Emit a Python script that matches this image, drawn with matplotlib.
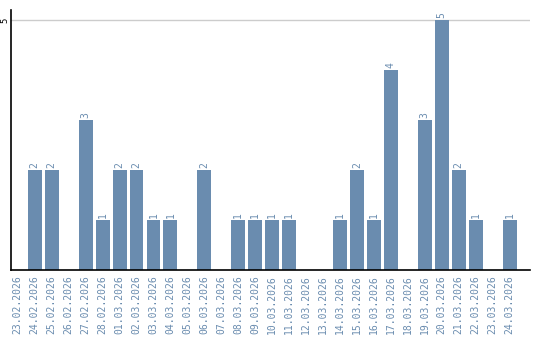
import matplotlib.pyplot as plt
import numpy as np

# daty i wartosci
dates = ['23.02.2026', '24.02.2026', '25.02.2026', '26.02.2026', '27.02.2026',
         '28.02.2026', '01.03.2026', '02.03.2026', '03.03.2026', '04.03.2026',
         '05.03.2026', '06.03.2026', '07.03.2026', '08.03.2026', '09.03.2026',
         '10.03.2026', '11.03.2026', '12.03.2026', '13.03.2026', '14.03.2026',
         '15.03.2026', '16.03.2026', '17.03.2026', '18.03.2026', '19.03.2026',
         '20.03.2026', '21.03.2026', '22.03.2026', '23.03.2026', '24.03.2026']
counts = [0, 2, 2, 0, 3, 1, 2, 2, 1, 1, 0, 2, 0, 1, 1, 1, 1, 0, 0, 1,
          2, 1, 4, 0, 3, 5, 2, 1, 0, 1]

kolor = '#6a8caf'

fig = plt.figure(figsize=(5.4, 3.4), dpi=100)
ax = fig.add_axes([11/540, 70/340, 519/540, 260/340])

x = np.arange(len(dates))
ax.bar(x, counts, width=0.82, color=kolor, zorder=2)

for i in range(len(counts)):
    if counts[i] > 0:
        ax.text(x[i], counts[i] + 0.04, str(counts[i]), rotation=90,
                ha='center', va='bottom', fontsize=7, color=kolor,
                family='DejaVu Sans Mono')

ax.set_xlim(-0.4, 30.2)
ax.set_ylim(0, 5.2)
ax.axhline(5, color='#cccccc', lw=1, zorder=1)

ax.set_yticks([5])
ax.set_yticklabels(['5'], rotation=90, fontsize=6.5, family='DejaVu Sans Mono', va='center')
ax.tick_params(axis='y', length=0, pad=1)

ax.set_xticks(x)
ax.set_xticklabels(dates, rotation=90, fontsize=7, color=kolor,
                   family='DejaVu Sans Mono')
ax.tick_params(axis='x', length=0, pad=4)

ax.spines['top'].set_visible(False)
ax.spines['right'].set_visible(False)
ax.spines['left'].set_linewidth(1.2)
ax.spines['bottom'].set_linewidth(1.2)

fig.savefig('out.png', dpi=100)
